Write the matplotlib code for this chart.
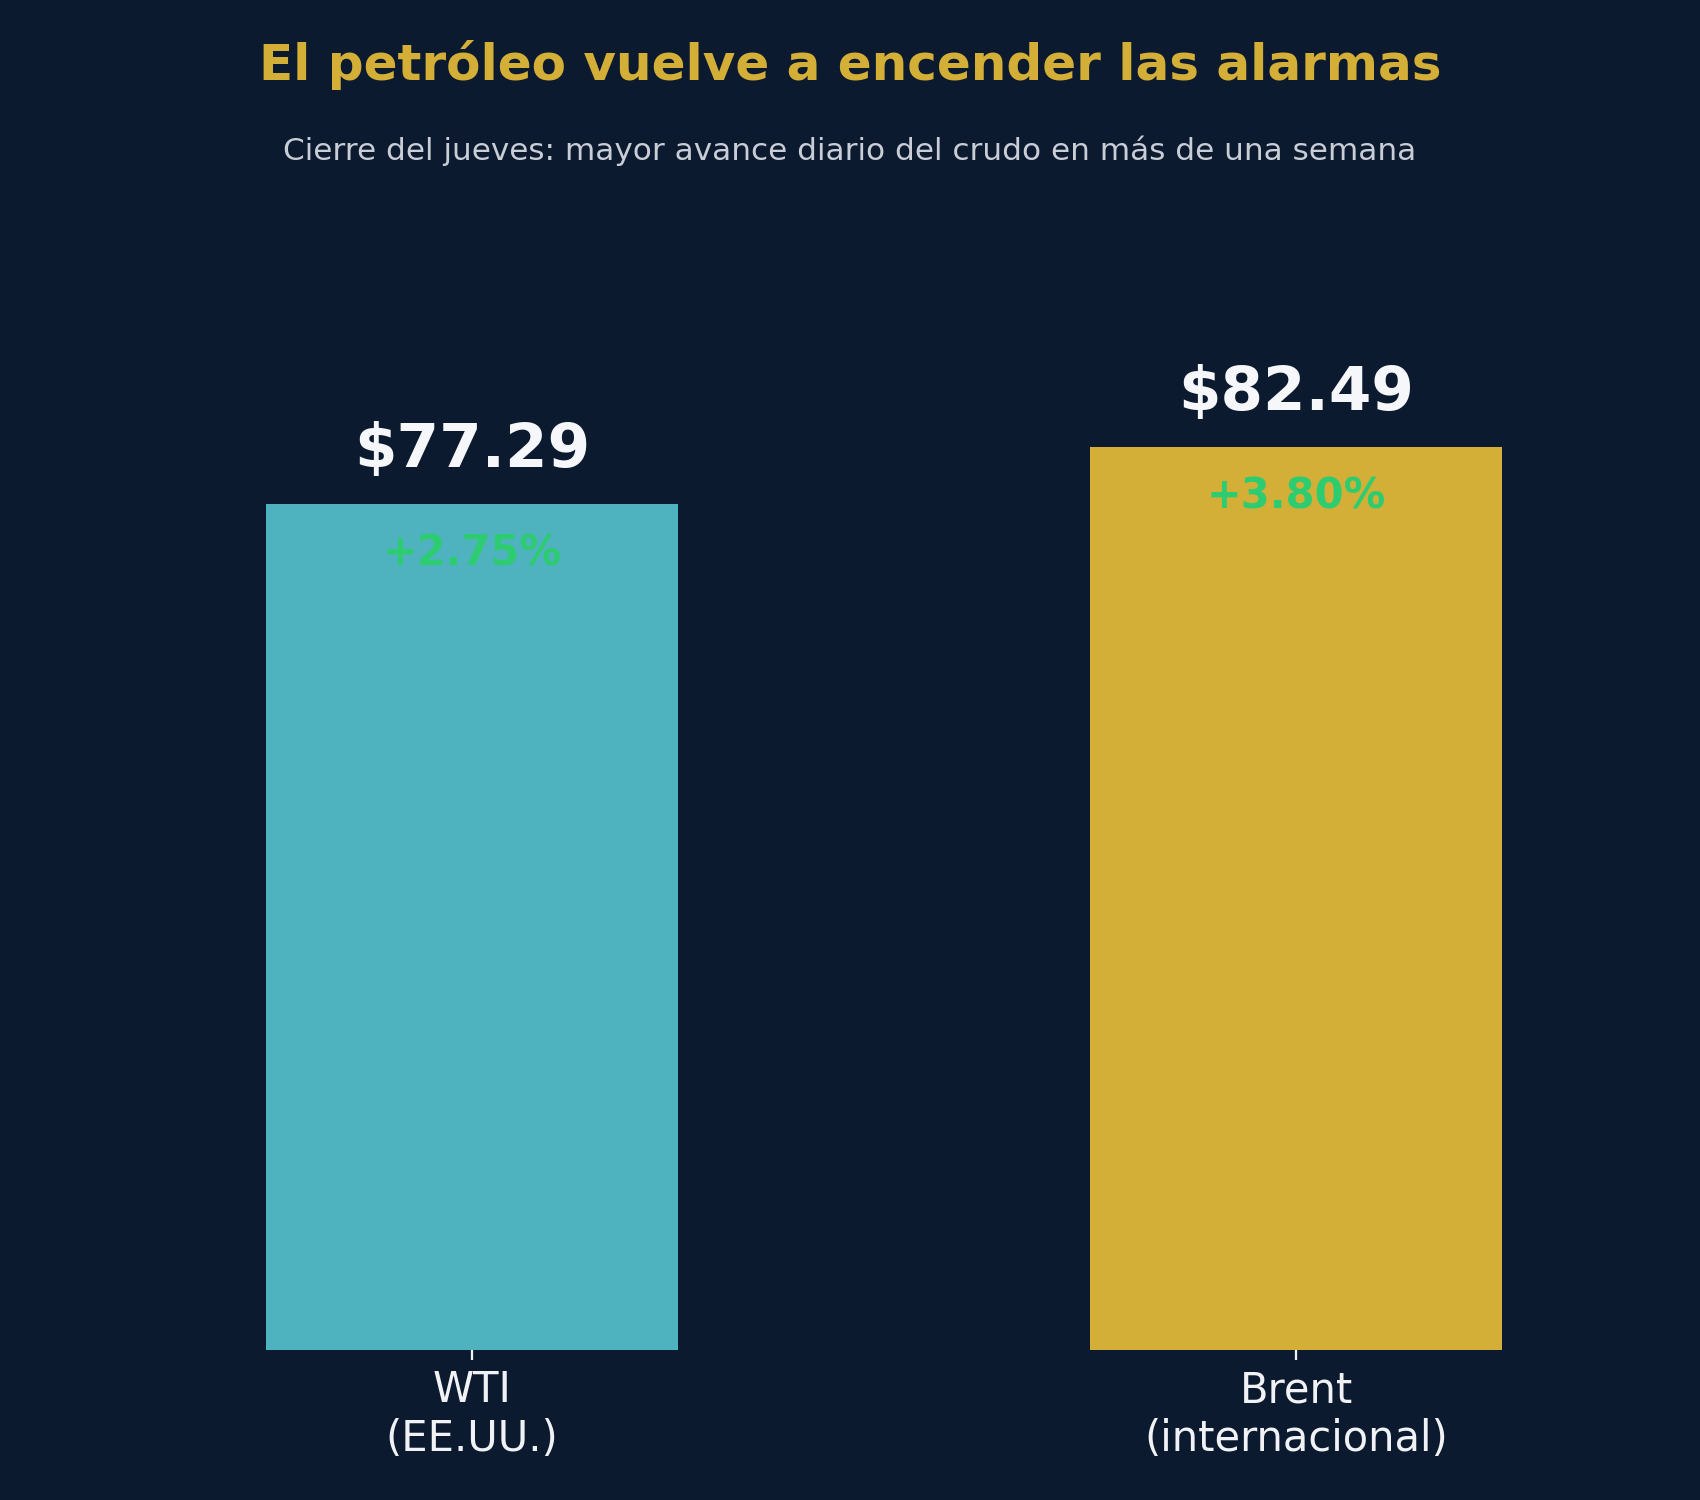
import matplotlib
matplotlib.use("Agg")
import matplotlib.pyplot as plt

# datos
crudos = ["WTI\n(EE.UU.)", "Brent\n(internacional)"]
precios = [77.29, 82.49]
variacion = ["+2.75%", "+3.80%"]
colores = ["#4fb3bf", "#d4af37"]

fondo = "#0c1a30"

fig = plt.figure(figsize=(8.5, 7.5), dpi=200, facecolor=fondo)
ax = fig.add_axes([0.12, 0.1, 0.8, 0.7223])
ax.set_facecolor(fondo)

x = list(range(len(crudos)))
barras = ax.bar(x, precios, width=0.5, color=colores)

for xi, p, v in zip(x, precios, variacion):
    ax.text(xi, p + 2.2, f"${p:.2f}", ha="center", va="bottom",
            fontsize=22, fontweight="bold", color="#f5f7fa")
    ax.text(xi, p - 2.6, v, ha="center", va="top",
            fontsize=15, fontweight="bold", color="#2ecc71")

ax.set_ylim(0, max(precios) * 1.2)
ax.set_xticks(x)
ax.set_xticklabels(crudos, fontsize=15, color="#f0f2f5")
ax.tick_params(axis="x", colors="#f0f2f5", length=3.5)
ax.set_yticks([])
for s in ax.spines.values():
    s.set_visible(False)

fig.text(0.5, 0.947, "El petróleo vuelve a encender las alarmas", ha="center",
         va="baseline", fontsize=18, fontweight="bold", color="#d4af37")
fig.text(0.5, 0.8933, "Cierre del jueves: mayor avance diario del crudo en más de una semana",
         ha="center", va="baseline", fontsize=11.2, color="#c8cdd6")

fig.savefig("out.png", dpi=200, facecolor=fondo)
